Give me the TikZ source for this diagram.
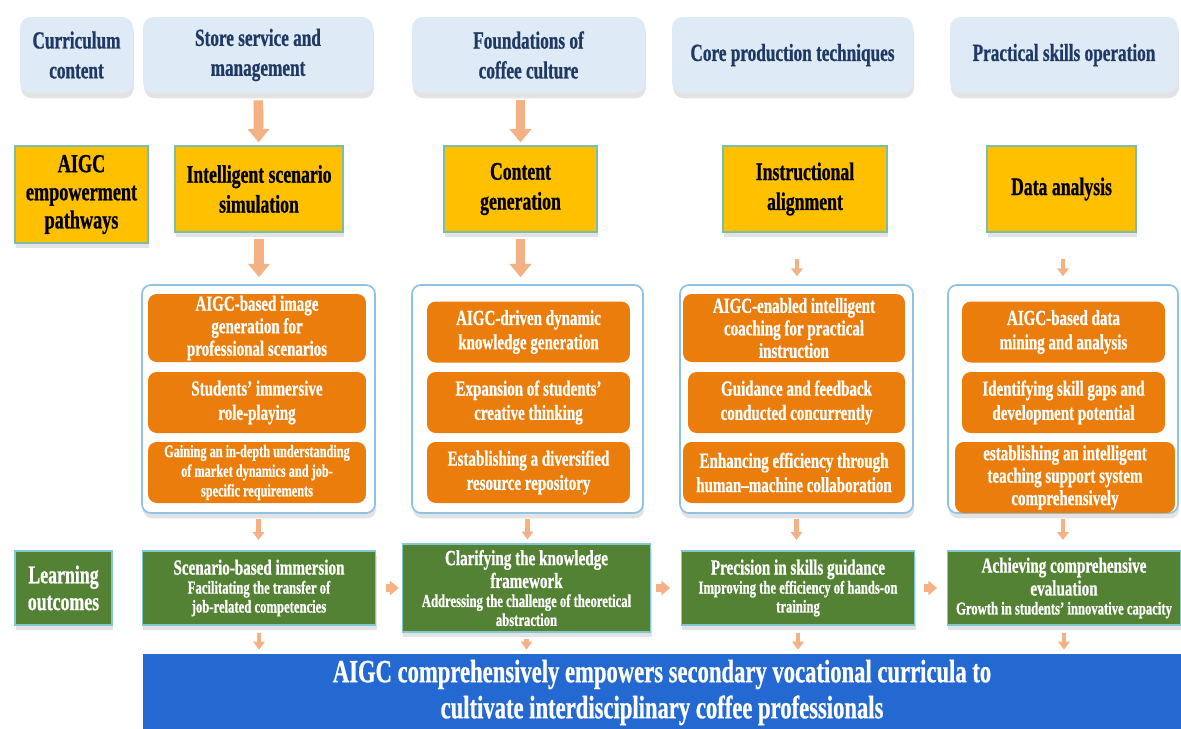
\documentclass[tikz,border=0pt]{standalone}
\usepackage{fontspec}
\setmainfont{Liberation Serif}[FakeStretch=0.7, BoldFont={Liberation Serif Bold}, BoldFeatures={FakeBold=0.8}]
\usetikzlibrary{arrows.meta,shadows}

\definecolor{headblue}{RGB}{222,234,246}
\definecolor{headtext}{RGB}{31,56,100}
\definecolor{pathyellow}{RGB}{255,192,0}
\definecolor{pathedge}{RGB}{120,190,170}
\definecolor{stepedge}{RGB}{143,195,230}
\definecolor{steporange}{RGB}{234,125,12}
\definecolor{outgreen}{RGB}{84,130,53}
\definecolor{outedge}{RGB}{130,200,210}
\definecolor{goalblue}{RGB}{36,104,210}
\definecolor{flowarrow}{RGB}{244,177,131}

\newcommand{\outtitle}{\fontsize{12.3}{13}\selectfont}
\newcommand{\outsub}{\fontsize{10.3}{10.8}\selectfont}

\tikzset{
    softshadow/.style={drop shadow={opacity=0.22, shadow xshift=0.6pt, shadow yshift=-3pt}},
    header/.style={fill=headblue, rounded corners=6pt, align=center, text=headtext,
        font=\fontsize{14}{17}\selectfont\bfseries, minimum height=1.52cm, softshadow},
    pathway/.style={fill=pathyellow, draw=pathedge, line width=0.8pt, align=center,
        font=\fontsize{14.4}{17}\selectfont\bfseries, minimum height=1.72cm, softshadow},
    stepframe/.style={fill=white, draw=stepedge, line width=1pt, rounded corners=5pt,
        minimum height=4.56cm, softshadow},
    stepbox/.style={fill=steporange, text=white, rounded corners=5pt, align=center,
        font=\fontsize{12.2}{13.8}\selectfont\bfseries, minimum height=1.22cm, inner sep=1pt},
    outcome/.style={fill=outgreen, draw=outedge, line width=0.6pt, text=white, align=flush center,
        font=\bfseries, minimum height=1.48cm, inner sep=1pt, softshadow},
    goal/.style={fill=goalblue, text=white, align=center, font=\fontsize{18.4}{20.5}\selectfont\bfseries},
    bigarrow/.style={draw=flowarrow, line width=5.5pt, -{Triangle[width=12pt,length=7.5pt]}},
    smallarrow/.style={draw=flowarrow, line width=2.4pt, -{Triangle[width=6.5pt,length=4.5pt]}},
    sidearrow/.style={draw=flowarrow, line width=4pt, -{Triangle[width=8pt,length=5pt]}},
}

\begin{document}
\begin{tikzpicture}[x=0.02cm, y=-0.02cm]
    \useasboundingbox (0,0) rectangle (1181,728);

    % curriculum content
    \node(hc)[header, minimum width=2.26cm] at (76.5,55) {Curriculum\\content};
    \node(h1)[header, minimum width=4.6cm] at (258,55) {Store service and\\management};
    \node(h2)[header, minimum width=4.66cm] at (528.5,55) {Foundations of\\coffee culture};
    \node(h3)[header, minimum width=4.82cm] at (792.5,55) {Core production techniques};
    \node(h4)[header, minimum width=4.56cm] at (1064,55) {Practical skills operation};

    % empowerment pathways
    \node(yc)[pathway, minimum width=2.66cm, minimum height=1.94cm, font=\fontsize{14.8}{16}\selectfont\bfseries] at (81.5,194.5) {AIGC\\empowerment\\pathways};
    \node(y1)[pathway, minimum width=3.36cm] at (259,189) {Intelligent scenario\\simulation};
    \node(y2)[pathway, minimum width=3.06cm] at (520.5,189) {Content\\generation};
    \node(y3)[pathway, minimum width=3.28cm] at (805,189) {Instructional\\alignment};
    \node(y4)[pathway, minimum width=2.98cm] at (1061.5,189) {Data analysis};

    % frames
    \node(c1)[stepframe, minimum width=4.66cm] at (258.5,399) {};
    \node(c2)[stepframe, minimum width=4.62cm] at (527.5,399) {};
    \node(c3)[stepframe, minimum width=4.66cm] at (796.5,399) {};
    \node(c4)[stepframe, minimum width=4.6cm] at (1063,399) {};

    \node(o11)[stepbox, minimum width=4.36cm, minimum height=1.36cm, font=\fontsize{12.2}{12.8}\selectfont\bfseries] at (257,328) {AIGC-based image\\generation for\\professional scenarios};
    \node(o12)[stepbox, minimum width=4.36cm] at (257,402.5) {Students’ immersive\\role-playing};
    \node(o13)[stepbox, minimum width=4.36cm, font=\fontsize{10}{11.2}\selectfont\bfseries] at (257,472.5) {Gaining an in-depth understanding\\of market dynamics and job-\\specific requirements};

    \node(o21)[stepbox, minimum width=4.06cm] at (528.5,332) {AIGC-driven dynamic\\knowledge generation};
    \node(o22)[stepbox, minimum width=4.06cm] at (528.5,402.5) {Expansion of students’\\creative thinking};
    \node(o23)[stepbox, minimum width=4.06cm] at (528.5,472.5) {Establishing a diversified\\resource repository};

    \node(o31)[stepbox, minimum width=4.44cm, minimum height=1.36cm, font=\fontsize{12.2}{12.8}\selectfont\bfseries] at (794,328) {AIGC-enabled intelligent\\coaching for practical\\instruction};
    \node(o32)[stepbox, minimum width=4.34cm] at (796.5,402.5) {Guidance and feedback\\conducted concurrently};
    \node(o33)[stepbox, minimum width=4.44cm] at (794,472.5) {Enhancing efficiency through\\human–machine collaboration};

    \node(o41)[stepbox, minimum width=4.06cm] at (1063.5,332) {AIGC-based data\\mining and analysis};
    \node(o42)[stepbox, minimum width=4.06cm] at (1063.5,402.5) {Identifying skill gaps and\\development potential};
    \node(o43)[stepbox, minimum width=4.4cm, minimum height=1.42cm, font=\fontsize{12.2}{12.8}\selectfont\bfseries] at (1065,477.5) {establishing an intelligent\\teaching support system\\comprehensively};

    % learning outcomes
    \node(gc)[outcome, minimum width=1.94cm, font=\fontsize{14.5}{15.3}\selectfont\bfseries] at (63.5,588) {Learning\\outcomes};
    \node(g1)[outcome, minimum width=4.64cm, text width=4.6cm] at (259,588)
        {{\outtitle Scenario-based immersion\par}{\outsub Facilitating the transfer of\\job-related competencies\par}};
    \node(g2)[outcome, minimum width=4.94cm, minimum height=1.76cm, text width=4.9cm] at (526.5,588)
        {{\outtitle Clarifying the knowledge\\framework\par}{\outsub Addressing the challenge of theoretical\\abstraction\par}};
    \node(g3)[outcome, minimum width=4.6cm, text width=4.6cm] at (798,588)
        {{\outtitle Precision in skills guidance\par}{\outsub Improving the efficiency of hands-on\\training\par}};
    \node(g4)[outcome, minimum width=4.56cm, text width=4.6cm] at (1064,588)
        {{\outtitle Achieving comprehensive\\evaluation\par}{\outsub Growth in students’ innovative capacity\par}};

    \node(goal)[goal, minimum width=20.76cm, minimum height=1.42cm] at (662,692.5)
        {AIGC comprehensively empowers secondary vocational curricula to\\cultivate interdisciplinary coffee professionals};

    % arrows
    \draw[bigarrow, shorten <=4pt, shorten >=1.7pt] (h1) -- (y1);
    \draw[bigarrow, shorten <=4pt, shorten >=1.7pt] (y2 |- h2.south) -- (y2.north);
    \draw[bigarrow, shorten <=3.4pt, shorten >=4pt] (y1) -- (y1 |- c1.north);
    \draw[bigarrow, shorten <=3.4pt, shorten >=4pt] (y2) -- (y2 |- c2.north);
    \draw[smallarrow, shorten <=14.7pt, shorten >=4.5pt] (c3.north -| y3.south) ++(-8,0) coordinate (a3) (y3.south -| a3) -- (a3);
    \draw[smallarrow, shorten <=14.7pt, shorten >=4.5pt] (y4.south -| c4.north) -- (c4.north);

    \draw[smallarrow, shorten <=2.8pt, shorten >=6pt] (c1) -- (c1 |- g1.north);
    \draw[smallarrow, shorten <=2.8pt, shorten >=2.3pt] (c2) -- (c2 |- g2.north);
    \draw[smallarrow, shorten <=2.8pt, shorten >=6pt] (c3) -- (c3 |- g3.north);
    \draw[smallarrow, shorten <=2.8pt, shorten >=6pt] (c4) -- (c4 |- g4.north);

    \draw[sidearrow, shorten <=5.5pt, shorten >=1.7pt] (g1) -- (g2);
    \draw[sidearrow, shorten <=2.8pt, shorten >=6pt] (g2.east |- g3) -- (g3);
    \draw[sidearrow, shorten <=5pt, shorten >=5.5pt] (g3) -- (g4);

    \draw[smallarrow, shorten <=4pt, shorten >=2.3pt] (g1) -- (g1 |- goal.north);
    \draw[smallarrow, shorten <=3.4pt, shorten >=2.3pt] (g2) -- (g2 |- goal.north);
    \draw[smallarrow, shorten <=4pt, shorten >=2.3pt] (g3) -- (g3 |- goal.north);
    \draw[smallarrow, shorten <=4pt, shorten >=2.3pt] (g4) -- (g4 |- goal.north);
\end{tikzpicture}
\end{document}
